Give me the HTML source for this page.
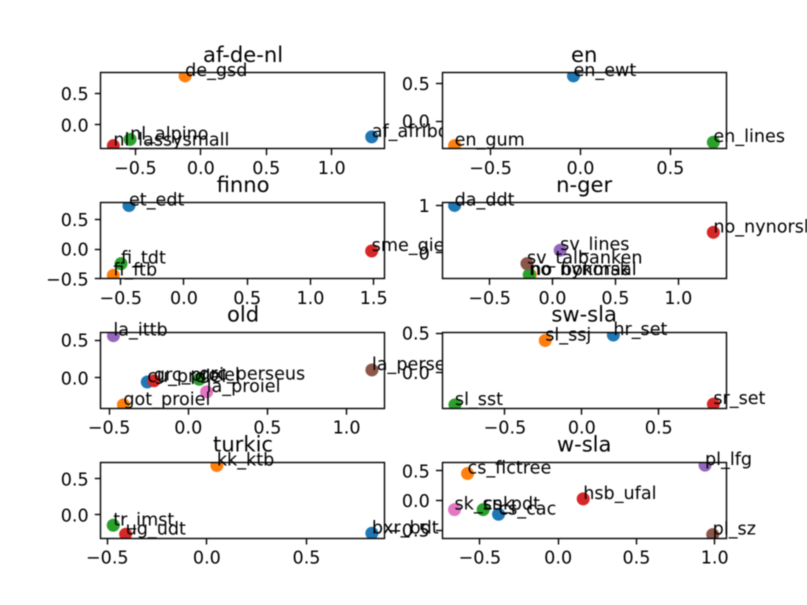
<!DOCTYPE html>
<html lang="en">
<head>
<meta charset="utf-8">
<title>Treebank scatter subplots</title>
<style>
html,body{margin:0;padding:0;background:#fff;}
body{width:807px;height:605px;overflow:hidden;}
svg{display:block;filter:blur(0.4px);}
text{font-family:"DejaVu Sans",sans-serif;fill:#000;}
</style>
</head>
<body>
<svg id="figure" xmlns="http://www.w3.org/2000/svg" width="807" height="605" viewBox="0 0 807 605"></svg>
<script>
const titles = ['af-de-nl', 'en', 'finno', 'n-ger', 'old', 'sw-sla', 'turkic', 'w-sla'];

const afDeNlLabels = ['af_afribooms', 'de_gsd', 'nl_alpino', 'nl_lassysmall'];
const afDeNlX = [1.305, -0.12, -0.54, -0.668];
const afDeNlY = [-0.19, 0.777, -0.23, -0.33];
const afDeNlXLim = [-0.763, 1.408];
const afDeNlYLim = [-0.383, 0.83];
const afDeNlXTicks = [-0.5, 0, 0.5, 1];
const afDeNlYTicks = [0, 0.5];
const afDeNlXTickLabels = ['−0.5', '0.0', '0.5', '1.0'];
const afDeNlYTickLabels = ['0.0', '0.5'];

const enLabels = ['en_ewt', 'en_gum', 'en_lines'];
const enX = [-0.039, -0.7, 0.739];
const enY = [0.603, -0.326, -0.281];
const enXLim = [-0.77, 0.811];
const enYLim = [-0.371, 0.647];
const enXTicks = [-0.5, 0, 0.5];
const enYTicks = [0, 0.5];
const enXTickLabels = ['−0.5', '0.0', '0.5'];
const enYTickLabels = ['0.0', '0.5'];

const finnoLabels = ['et_edt', 'fi_ftb', 'fi_tdt', 'sme_giella'];
const finnoX = [-0.435, -0.559, -0.498, 1.484];
const finnoY = [0.733, -0.44, -0.243, -0.03];
const finnoXLim = [-0.657, 1.591];
const finnoYLim = [-0.497, 0.785];
const finnoXTicks = [-0.5, 0, 0.5, 1, 1.5];
const finnoYTicks = [-0.5, 0, 0.5];
const finnoXTickLabels = ['−0.5', '0.0', '0.5', '1.0', '1.5'];
const finnoYTickLabels = ['−0.5', '0.0', '0.5'];

const nGerLabels = ['da_ddt', 'no_bokmaal', 'no_nynorsk', 'no_nynorsklia', 'sv_lines', 'sv_talbanken'];
const nGerX = [-0.778, -0.177, -0.185, 1.278, 0.061, -0.203];
const nGerY = [1, -0.46, -0.46, 0.434, 0.057, -0.226];
const nGerXLim = [-0.878, 1.381];
const nGerYLim = [-0.545, 1.064];
const nGerXTicks = [-0.5, 0, 0.5, 1];
const nGerYTicks = [0, 1];
const nGerXTickLabels = ['−0.5', '0.0', '0.5', '1.0'];
const nGerYTickLabels = ['0', '1'];

const oldLabels = ['cu_proiel', 'got_proiel', 'grc_perseus', 'grc_proiel', 'la_ittb', 'la_perseus', 'la_proiel'];
const oldX = [-0.259, -0.41, 0.069, -0.217, -0.473, 1.16, 0.116];
const oldY = [-0.053, -0.354, -0.017, -0.036, 0.557, 0.106, -0.182];
const oldXLim = [-0.552, 1.244];
const oldYLim = [-0.403, 0.603];
const oldXTicks = [-0.5, 0, 0.5, 1];
const oldYTicks = [0, 0.5];
const oldXTickLabels = ['−0.5', '0.0', '0.5', '1.0'];
const oldYTickLabels = ['0.0', '0.5'];

const swSlaLabels = ['hr_set', 'sl_ssj', 'sl_sst', 'sr_set'];
const swSlaX = [0.205, -0.238, -0.825, 0.855];
const swSlaY = [0.475, 0.406, -0.406, -0.397];
const swSlaXLim = [-0.909, 0.939];
const swSlaYLim = [-0.453, 0.511];
const swSlaXTicks = [-0.5, 0, 0.5];
const swSlaYTicks = [0, 0.5];
const swSlaXTickLabels = ['−0.5', '0.0', '0.5'];
const swSlaYTickLabels = ['0.0', '0.5'];

const turkicLabels = ['bxr_bdt', 'kk_ktb', 'tr_imst', 'ug_udt'];
const turkicX = [0.828, 0.05, -0.47, -0.408];
const turkicY = [-0.254, 0.685, -0.143, -0.268];
const turkicXLim = [-0.532, 0.895];
const turkicYLim = [-0.325, 0.734];
const turkicXTicks = [-0.5, 0, 0.5];
const turkicYTicks = [0, 0.5];
const turkicXTickLabels = ['−0.5', '0.0', '0.5'];
const turkicYTickLabels = ['0.0', '0.5'];

const wSlaLabels = ['cs_cac', 'cs_fictree', 'cs_pdt', 'hsb_ufal', 'pl_lfg', 'pl_sz', 'sk_snk'];
const wSlaX = [-0.381, -0.579, -0.479, 0.16, 0.938, 0.987, -0.662];
const wSlaY = [-0.23, 0.455, -0.152, 0.029, 0.597, -0.573, -0.152];
const wSlaXLim = [-0.742, 1.074];
const wSlaYLim = [-0.636, 0.649];
const wSlaXTicks = [-0.5, 0, 0.5, 1];
const wSlaYTicks = [-0.5, 0, 0.5];
const wSlaXTickLabels = ['−0.5', '0.0', '0.5', '1.0'];
const wSlaYTickLabels = ['−0.5', '0.0', '0.5'];

const seriesColors = ['#1f77b4', '#ff7f0e', '#2ca02c', '#d62728', '#9467bd', '#8c564b', '#e377c2'];

const panelLabels = [afDeNlLabels, enLabels, finnoLabels, nGerLabels, oldLabels, swSlaLabels, turkicLabels, wSlaLabels];
const panelX = [afDeNlX, enX, finnoX, nGerX, oldX, swSlaX, turkicX, wSlaX];
const panelY = [afDeNlY, enY, finnoY, nGerY, oldY, swSlaY, turkicY, wSlaY];
const panelXLim = [afDeNlXLim, enXLim, finnoXLim, nGerXLim, oldXLim, swSlaXLim, turkicXLim, wSlaXLim];
const panelYLim = [afDeNlYLim, enYLim, finnoYLim, nGerYLim, oldYLim, swSlaYLim, turkicYLim, wSlaYLim];
const panelXTicks = [afDeNlXTicks, enXTicks, finnoXTicks, nGerXTicks, oldXTicks, swSlaXTicks, turkicXTicks, wSlaXTicks];
const panelYTicks = [afDeNlYTicks, enYTicks, finnoYTicks, nGerYTicks, oldYTicks, swSlaYTicks, turkicYTicks, wSlaYTicks];
const panelXTickLabels = [afDeNlXTickLabels, enXTickLabels, finnoXTickLabels, nGerXTickLabels, oldXTickLabels, swSlaXTickLabels, turkicXTickLabels, wSlaXTickLabels];
const panelYTickLabels = [afDeNlYTickLabels, enYTickLabels, finnoYTickLabels, nGerYTickLabels, oldYTickLabels, swSlaYTickLabels, turkicYTickLabels, wSlaYTickLabels];

const NS = 'http://www.w3.org/2000/svg';
const figure = document.getElementById('figure');
const snap = v => Math.round(v - 0.5) + 0.5;

function make(parent, tag, attrs, content) {
  const el = document.createElementNS(NS, tag);
  for (const k in attrs) el.setAttribute(k, attrs[k]);
  if (content !== undefined) el.textContent = content;
  parent.appendChild(el);
  return el;
}

const defs = make(figure, 'defs', {});

titles.forEach((title, p) => {
  const slug = title.replace(/[^a-z]+/g, '-');
  const col = p % 2, row = Math.floor(p / 2);
  const left = 100.9 + col * 341.1, width = 284.3;
  const top = 72.6 + row * 129.8, height = 76.4;
  const right = left + width, bottom = top + height;
  const xLim = panelXLim[p], yLim = panelYLim[p];
  const sx = v => left + (v - xLim[0]) / (xLim[1] - xLim[0]) * width;
  const sy = v => bottom - (v - yLim[0]) / (yLim[1] - yLim[0]) * height;

  const clip = make(defs, 'clipPath', { id: 'clip-' + p });
  make(clip, 'rect', { x: left, y: top, width: width, height: height });

  const g = make(figure, 'g', {});
  
  

  const bg = make(g, 'rect', { x: left, y: top, width: width, height: height, fill: '#fff' });
  
  

  panelX[p].forEach((xv, i) => {
    const pt = make(g, 'circle', { cx: sx(xv), cy: sy(panelY[p][i]), r: 6.5, fill: seriesColors[i], 'clip-path': 'url(#clip-' + p + ')' });
    
    
  });

  panelXTicks[p].forEach((tv, i) => {
    const x = snap(sx(tv));
    const tick = make(g, 'line', { x1: x, x2: x, y1: bottom, y2: bottom + 6.1, stroke: '#000', 'stroke-width': 1.4 });
    
    
    const lab = make(g, 'text', { x: sx(tv), y: bottom + 25, 'font-size': 17.6, 'text-anchor': 'middle' }, panelXTickLabels[p][i]);
    
    
  });

  panelYTicks[p].forEach((tv, i) => {
    const y = snap(sy(tv));
    const tick = make(g, 'line', { x1: left - 6.1, x2: left, y1: y, y2: y, stroke: '#000', 'stroke-width': 1.4 });
    
    
    const lab = make(g, 'text', { x: left - 12.2, y: sy(tv) + 6.4, 'font-size': 17.6, 'text-anchor': 'end' }, panelYTickLabels[p][i]);
    
    
  });

  const frame = make(g, 'rect', { x: snap(left), y: snap(top), width: Math.round(width), height: Math.round(height), fill: 'none', stroke: '#000', 'stroke-width': 1.4 });
  
  

  panelLabels[p].forEach((name, i) => {
    const lab = make(g, 'text', { x: sx(panelX[p][i]), y: sy(panelY[p][i]), 'font-size': 17.6 }, name);
    
    
  });

  const ttl = make(g, 'text', { x: (left + right) / 2, y: top - 10.5, 'font-size': 21.1, 'text-anchor': 'middle' }, title);
  
  
});
</script>
</body>
</html>
